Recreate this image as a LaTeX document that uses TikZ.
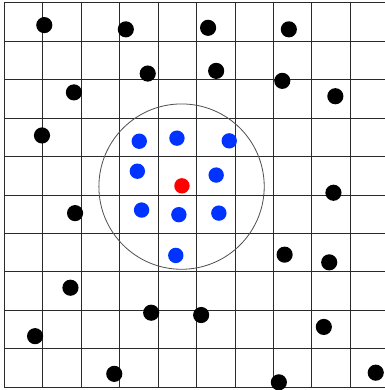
\documentclass[tikz,border=0pt]{standalone}
\usepackage{xcolor}
\definecolor{gridink}{HTML}{2A2A2A}
\definecolor{ringink}{HTML}{505050}
\definecolor{dotblue}{HTML}{0033FF}
\definecolor{dotred}{HTML}{FF0000}

\begin{document}
\begin{tikzpicture}[
  x=1cm,y=1cm,
  gridline/.style={draw=gridink,line width=.7pt},
  ring/.style={draw=ringink,line width=.6pt},
  farpt/.style={fill=black},
  nearpt/.style={fill=dotblue},
  querypt/.style={fill=dotred}
]
\useasboundingbox (-0.112,-0.070) rectangle (9.90,10.073);
\fill[white] (-0.112,-0.070) rectangle (9.90,10.073);

% grid
\foreach \i in {0,...,9}{\draw[gridline] (\i,0)--(\i,10);}
\foreach \j in {0,...,10}{\draw[gridline] (0,\j)--(9.95,\j);}

% search radius
\coordinate (query) at (4.61,5.22);
\draw[ring] (query) circle (2.15);

% points outside
\foreach \x/\y in {1.04/9.42,3.16/9.31,5.30/9.35,7.40/9.31,3.73/8.16,5.51/8.23,
  7.23/7.97,1.81/7.67,8.61/7.57,0.98/6.55,8.56/5.06,1.84/4.53,7.29/3.45,
  8.45/3.25,1.72/2.59,3.82/1.94,5.12/1.88,8.31/1.57,0.80/1.33,2.86/0.35,
  7.14/0.13,9.66/0.38}{\fill[farpt] (\x,\y) circle (0.21);}

% neighbours inside
\foreach \x/\y in {3.51/6.40,4.49/6.48,5.85/6.41,3.46/5.62,5.51/5.52,
  3.57/4.61,4.54/4.49,5.58/4.53,4.46/3.43}{\fill[nearpt] (\x,\y) circle (0.20);}

% query point
\fill[querypt] (4.62,5.24) circle (0.20);
\end{tikzpicture}
\end{document}
